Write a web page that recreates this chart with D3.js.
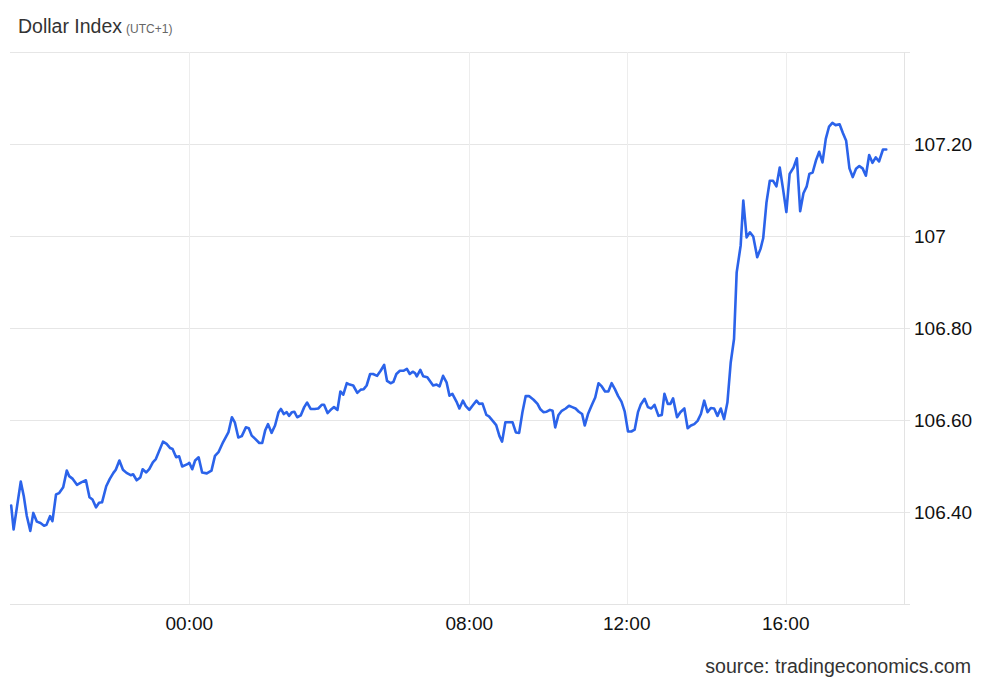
<!DOCTYPE html>
<html><head><meta charset="utf-8">
<script src="https://cdn.jsdelivr.net/npm/d3@7"></script>
<style>
html,body{margin:0;padding:0;background:#fff;}
svg{display:block;font-family:"Liberation Sans",Arial,Helvetica,sans-serif;}
</style></head>
<body><svg id="chart" width="985" height="683"></svg>
<script>
const times = ["19:02","19:06","19:18","19:23","19:28","19:34","19:39","19:45","19:51","19:57","20:01","20:07","20:11","20:17","20:22","20:29","20:35","20:39","20:45","20:52","21:00","21:07","21:13","21:18","21:24","21:29","21:34","21:41","21:47","21:53","21:57","22:03","22:09","22:15","22:22","22:26","22:32","22:38","22:42","22:48","22:53","22:59","23:04","23:16","23:22","23:28","23:32","23:38","23:43","23:48","23:57","00:00","00:05","00:10","00:16","00:22","00:30","00:38","00:44","00:50","00:58","01:07","01:13","01:18","01:24","01:30","01:37","01:42","01:47","01:53","02:00","02:05","02:10","02:15","02:21","02:27","02:33","02:37","02:42","02:47","02:51","02:56","03:00","03:05","03:11","03:17","03:22","03:28","03:35","03:41","03:47","03:51","03:57","04:04","04:08","04:14","04:19","04:24","04:30","04:35","04:41","04:48","04:54","04:59","05:04","05:10","05:15","05:22","05:28","05:34","05:39","05:45","05:50","05:55","06:01","06:07","06:13","06:18","06:23","06:27","06:30","06:36","06:41","06:48","06:54","06:58","07:04","07:09","07:15","07:21","07:26","07:31","07:38","07:43","07:49","07:54","08:00","08:06","08:11","08:15","08:20","08:26","08:30","08:37","08:41","08:46","08:50","08:55","09:01","09:06","09:11","09:16","09:21","09:26","09:31","09:38","09:44","09:48","09:53","09:58","10:03","10:07","10:11","10:16","10:21","10:27","10:32","10:37","10:42","10:47","10:52","10:56","11:01","11:07","11:12","11:17","11:22","11:27","11:32","11:37","11:42","11:47","11:52","11:57","12:02","12:07","12:12","12:17","12:21","12:27","12:32","12:37","12:42","12:48","12:53","12:57","13:02","13:06","13:10","13:16","13:21","13:27","13:32","13:37","13:42","13:47","13:52","13:57","14:02","14:07","14:12","14:17","14:22","14:27","14:32","14:37","14:42","14:46","14:52","14:56","15:01","15:06","15:11","15:17","15:22","15:26","15:31","15:36","15:41","15:46","15:51","15:56","16:01","16:06","16:12","16:17","16:22","16:27","16:32","16:36","16:41","16:46","16:51","16:56","17:01","17:06","17:11","17:16","17:22","17:27","17:32","17:37","17:42","17:47","17:52","17:57","18:02","18:07","18:12","18:17","18:22","18:28","18:33"];
const values = [106.414,106.362,106.466,106.435,106.392,106.359,106.398,106.379,106.376,106.370,106.372,106.391,106.380,106.438,106.441,106.454,106.490,106.478,106.472,106.459,106.465,106.469,106.432,106.427,106.410,106.420,106.421,106.456,106.472,106.485,106.492,106.512,106.492,106.485,106.480,106.482,106.469,106.475,106.493,106.486,106.493,106.508,106.515,106.553,106.548,106.539,106.537,106.519,106.521,106.499,106.504,106.507,106.493,106.512,106.519,106.486,106.484,106.490,106.522,106.530,106.552,106.573,106.606,106.595,106.562,106.565,106.584,106.582,106.566,106.559,106.550,106.550,106.577,106.591,106.572,106.588,106.617,106.624,106.613,106.617,106.609,106.617,106.618,106.606,106.610,106.628,106.638,106.624,106.624,106.625,106.633,106.633,106.615,106.624,106.628,106.622,106.662,106.655,106.680,106.677,106.675,106.659,106.666,106.667,106.675,106.700,106.700,106.696,106.707,106.720,106.685,106.680,106.683,106.700,106.707,106.707,106.711,106.700,106.705,106.702,106.695,106.709,106.695,106.693,106.682,106.675,106.677,106.673,106.696,106.682,106.653,106.657,106.640,106.625,106.642,106.630,106.622,106.633,106.642,106.635,106.636,106.611,106.608,106.596,106.589,106.565,106.553,106.595,106.595,106.595,106.573,106.572,106.617,106.652,106.652,106.644,106.635,106.624,106.617,106.618,106.622,106.620,106.584,106.611,106.620,106.625,106.631,106.628,106.625,106.618,106.613,106.588,106.613,106.633,106.649,106.680,106.673,106.662,106.662,106.680,106.667,106.652,106.640,106.618,106.575,106.575,106.579,106.617,106.633,106.646,106.628,106.625,106.633,106.609,106.611,106.657,106.635,106.635,106.647,106.606,106.617,106.625,106.582,106.588,106.591,106.598,106.613,106.642,106.617,106.626,106.625,106.609,106.625,106.602,106.638,106.725,106.776,106.921,106.979,107.077,106.997,107.008,106.999,106.954,106.972,106.995,107.073,107.120,107.120,107.108,107.149,107.102,107.052,107.135,107.149,107.169,107.054,107.093,107.108,107.135,107.138,107.164,107.183,107.160,107.211,107.238,107.246,107.241,107.243,107.224,107.207,107.147,107.128,107.146,107.152,107.147,107.131,107.176,107.159,107.171,107.162,107.188,107.188];
const yTicks = [106.4, 106.6, 106.8, 107, 107.2];
const yTickLabels = ["106.40", "106.60", "106.80", "107", "107.20"];
const xTickTimes = ["00:00", "08:00", "12:00", "16:00"];
const title = "Dollar Index";
const subtitle = "(UTC+1)";
const source = "source: tradingeconomics.com";

(function () {
  // minutes relative to midnight; evening hours belong to the previous day
  function toMin(t) {
    const [h, m] = t.split(":").map(Number);
    let v = h * 60 + m;
    if (h >= 19) v -= 1440;
    return v;
  }
  const data = times.map((t, i) => ({ t: toMin(t), v: values[i] }));

  const svg = d3.select("#chart");
  const pL = 10, pR = 904, pT = 52, pB = 604;

  // time axis is compressed overnight (fewer trading bars), so use a piecewise scale
  const x = d3.scaleLinear()
    .domain([-300, 0, 480, 720, 960, 1140])
    .range([pL, 189.3, 469.3, 626.7, 785.7, pR]);
  const y = d3.scaleLinear().domain([106.2, 107.4]).range([pB, pT]);

  // horizontal grid
  const gridVals = [107.4].concat(yTicks);
  svg.append("g").selectAll("line").data(gridVals).join("line")
    .attr("x1", pL).attr("x2", pR + 6)
    .attr("y1", d => Math.round(y(d)) + 0.5).attr("y2", d => Math.round(y(d)) + 0.5)
    .attr("stroke", "#e6e6e6").attr("stroke-width", 1);

  // vertical grid
  svg.append("g").selectAll("line").data(xTickTimes).join("line")
    .attr("x1", d => Math.round(x(toMin(d))) + 0.5).attr("x2", d => Math.round(x(toMin(d))) + 0.5)
    .attr("y1", pT).attr("y2", pB)
    .attr("stroke", "#ededed").attr("stroke-width", 1);

  // bottom axis line
  svg.append("line").attr("x1", pL).attr("x2", pR + 6)
    .attr("y1", pB + 0.5).attr("y2", pB + 0.5)
    .attr("stroke", "#e3e3e3").attr("stroke-width", 1.2);
  // right axis line
  svg.append("line").attr("x1", pR + 0.5).attr("x2", pR + 0.5)
    .attr("y1", pT).attr("y2", pB)
    .attr("stroke", "#e3e3e3").attr("stroke-width", 1);

  // y labels
  svg.append("g").selectAll("text").data(yTicks).join("text")
    .attr("x", 914).attr("y", d => y(d) + 7)
    .attr("font-size", 19).attr("fill", "#111")
    .text((d, i) => yTickLabels[i]);

  // x labels
  svg.append("g").selectAll("text").data(xTickTimes).join("text")
    .attr("x", d => x(toMin(d))).attr("y", 630)
    .attr("text-anchor", "middle").attr("font-size", 19).attr("fill", "#111")
    .text(d => d);

  // line
  const line = d3.line().x(d => x(d.t)).y(d => y(d.v)).curve(d3.curveLinear);
  svg.append("path").datum(data)
    .attr("d", line).attr("fill", "none")
    .attr("stroke", "#2b63ea").attr("stroke-width", 2.6)
    .attr("stroke-linejoin", "round").attr("stroke-linecap", "round");

  // title
  const tt = svg.append("text").attr("x", 18).attr("y", 33);
  tt.append("tspan").attr("font-size", 19.5).attr("fill", "#333").text(title);
  tt.append("tspan").attr("dx", 4).attr("font-size", 12).attr("fill", "#666").text(subtitle);

  // source
  svg.append("text").attr("x", 971).attr("y", 673).attr("text-anchor", "end")
    .attr("font-size", 19.6).attr("fill", "#333").text(source);
})();
</script>
</body></html>
